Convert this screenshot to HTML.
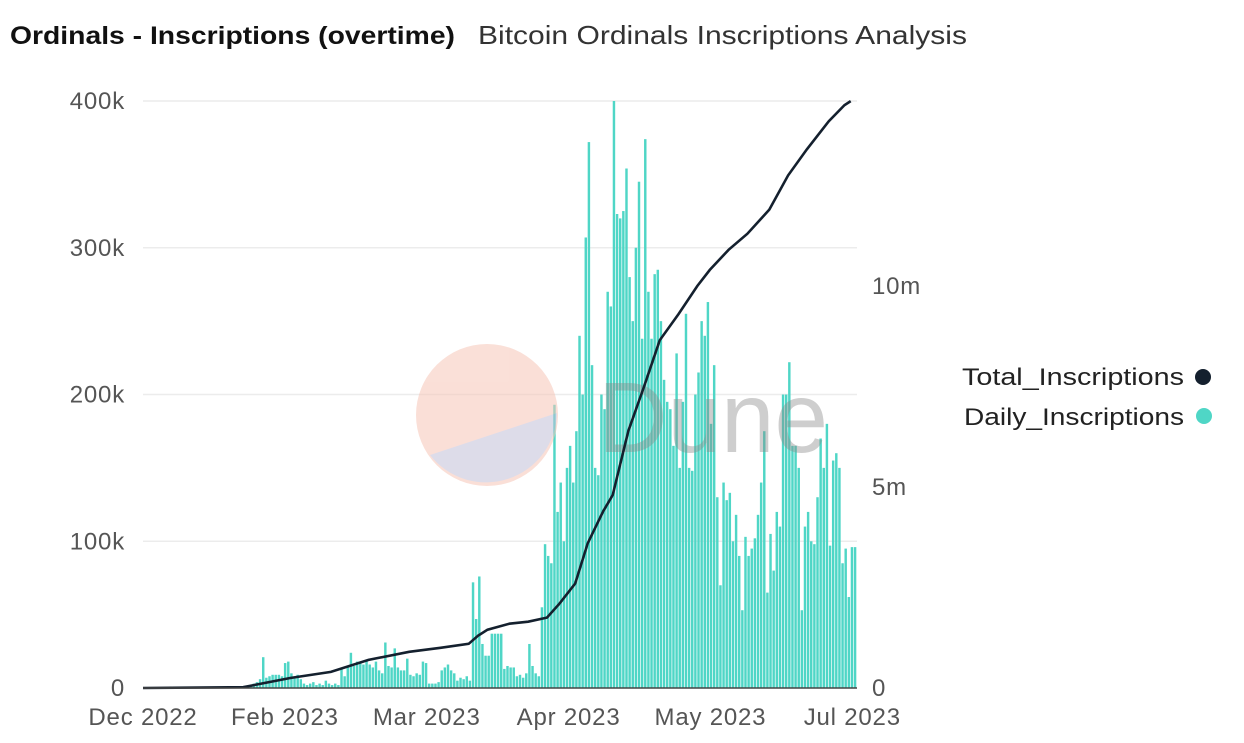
<!DOCTYPE html>
<html><head><meta charset="utf-8"><style>
body{margin:0;background:#fff;width:1244px;height:738px;overflow:hidden;font-family:"Liberation Sans",sans-serif}
</style></head><body>
<svg id="c" width="1244" height="738">
<text x="10" y="44" font-size="25" font-weight="bold" fill="#111" textLength="445" lengthAdjust="spacingAndGlyphs">Ordinals - Inscriptions (overtime)</text>
<text x="478" y="44" font-size="26" fill="#333" textLength="489" lengthAdjust="spacingAndGlyphs">Bitcoin Ordinals Inscriptions Analysis</text>
<g id="grid"></g>
<g id="bars"></g>
<g id="wm" opacity="0.55">
<circle cx="487" cy="415" r="71" fill="#f6c6b8"/>
<path d="M430,455 L557,413 A71,71 0 0 1 430,455 Z" fill="#c3c0d8"/>
<text x="598" y="452" font-size="100" fill="#888" opacity="0.75" textLength="230" lengthAdjust="spacingAndGlyphs">Dune</text>
</g>
<path id="line" fill="none" stroke="#14202e" stroke-width="2.6"/>
<g id="axes"></g>
<g>
<text x="962" y="385" font-size="24" fill="#222" textLength="222" lengthAdjust="spacingAndGlyphs">Total_Inscriptions</text>
<circle cx="1203" cy="377" r="8" fill="#14202e"/>
<text x="964" y="425" font-size="24" fill="#222" textLength="220" lengthAdjust="spacingAndGlyphs">Daily_Inscriptions</text>
<circle cx="1204" cy="416" r="8" fill="#4fd6c6"/>
</g>
</svg>
<script>
const leadingZeroDays = 33;
const dailyK = [1,2,3,4,6,21,7,8,9,9,9,8,17,18,10,7,9,6,3,2,3,4,2,3,2,5,3,2,3,2,13,8,14,24,15,18,17,16,19,16,14,18,12,10,31,15,14,27,14,12,12,20,9,8,10,9,18,17,3,3,3,4,12,14,16,12,10,5,7,6,8,5,72,47,76,30,22,22,37,37,37,37,13,15,14,14,8,9,7,10,30,15,10,8,
55,98,90,85,193,120,140,100,150,165,140,175,240,200,307,372,220,150,145,200,190,270,260,400,323,320,325,354,280,250,300,345,238,374,270,238,282,285,250,210,195,190,165,228,150,195,255,150,148,200,215,250,240,263,180,220,130,70,140,128,133,100,118,90,53,103,90,95,102,118,140,175,65,105,80,120,110,200,200,222,165,165,150,53,110,120,100,98,130,170,150,180,97,155,160,150,85,95,62,96,96];
const totalDays = [0,32,47,60,72,85,95,104,107,110,117,123,129,133,138,142,147,150,155,160,165,171,177,181,187,193,200,206,212,219,224,226];
const totalM = [0,0.02,0.25,0.4,0.7,0.9,1.0,1.1,1.3,1.45,1.6,1.65,1.75,2.1,2.6,3.6,4.4,4.8,6.4,7.5,8.65,9.3,10.0,10.4,10.9,11.3,11.9,12.75,13.4,14.1,14.5,14.6];
const xTickDays = [0,45.3,90.6,135.9,181.2,226.5];
const xTickLabels = ["Dec 2022","Feb 2023","Mar 2023","Apr 2023","May 2023","Jul 2023"];
const leftTicks = [0,100,200,300,400];
const leftTickLabels = ["0","100k","200k","300k","400k"];
const rightTicks = [0,5,10];
const rightTickLabels = ["0","5m","10m"];
const NS="http://www.w3.org/2000/svg";
const dayMax = leadingZeroDays + dailyK.length;
const X = d => 143 + d/dayMax*714;
const YL = v => 688 - v/400*587;
const YR = v => 688 - v*40.2;
function mk(tag, attrs, parent){const e=document.createElementNS(NS,tag);for(const k in attrs)e.setAttribute(k,attrs[k]);parent.appendChild(e);return e;}
const grid=document.getElementById('grid'), bars=document.getElementById('bars'), axes=document.getElementById('axes');
leftTicks.forEach((t,i)=>{
  if(t>0){const g=mk('line',{x1:143,x2:857,y1:YL(t),y2:YL(t),stroke:'#ececec','stroke-width':1.5},grid);
  
  }
  const tx=mk('text',{x:125,y:YL(t)+8,'text-anchor':'end','font-size':24,'letter-spacing':'0.8',fill:'#555'},axes);
  tx.textContent=leftTickLabels[i];
  
  
});
rightTicks.forEach((t,i)=>{
  const tx=mk('text',{x:872,y:YR(t)+8,'font-size':24,'letter-spacing':'0.8',fill:'#555'},axes);
  tx.textContent=rightTickLabels[i];
  
  
});
xTickDays.forEach((d,i)=>{
  const tx=mk('text',{x:X(d),y:725,'text-anchor':'middle','font-size':24,'letter-spacing':'0.8',fill:'#555'},axes);
  tx.textContent=xTickLabels[i];
  
  
});
const step=714/dayMax;
dailyK.forEach((v,i)=>{
  const d=leadingZeroDays+i;
  const r=mk('rect',{x:X(d),y:YL(v),width:step*0.78,height:688-YL(v),fill:'#4fd6c6'},bars);
  
  
});
const ax=mk('line',{x1:143,x2:857,y1:688,y2:688,stroke:'#444','stroke-width':1.5},axes);


document.getElementById('line').setAttribute('d', totalDays.map((d,i)=>(i?'L':'M')+X(d).toFixed(1)+','+YR(totalM[i]).toFixed(1)).join(' '));
</script>
</body></html>
